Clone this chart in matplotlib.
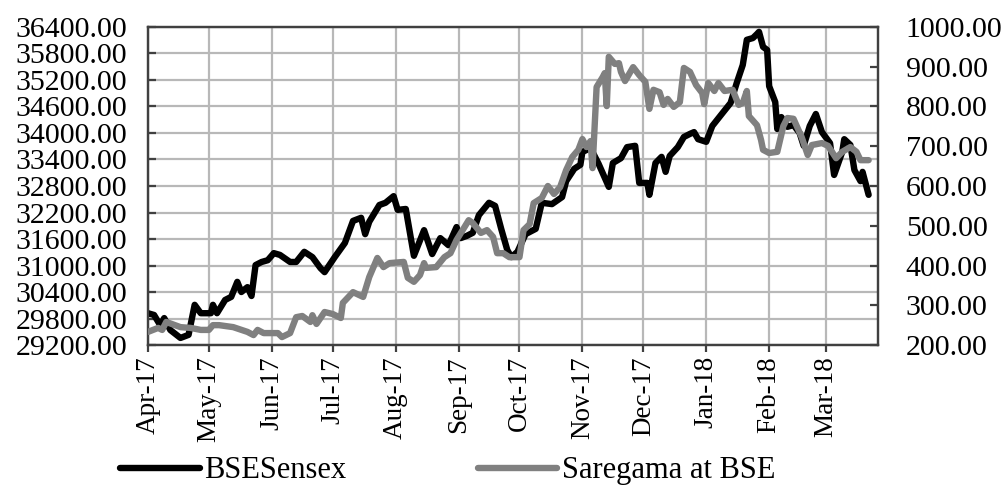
import matplotlib

matplotlib.use("Agg")
import matplotlib.dates as mdates  # noqa: E402
import matplotlib.pyplot as plt  # noqa: E402
import numpy as np  # noqa: E402
from matplotlib.ticker import FixedLocator, FormatStrFormatter  # noqa: E402

# days counted from 1 Apr 2017
START = np.datetime64("2017-04-01")

sensex_days = [0, 3, 6, 8, 11, 16, 20, 23, 26, 31, 32, 34, 38, 41, 44, 46, 49, 51, 53, 56,
               59, 62, 65, 70, 73, 77, 81, 85, 87, 92, 97, 101, 105, 107, 109, 114, 117, 121, 123, 127,
               131, 136, 140, 144, 148, 152, 154, 157, 160, 163, 168, 171, 174, 177, 179, 182, 186, 191, 194, 199,
               204, 206, 210, 213, 214, 218, 222, 227, 229, 233, 236, 240, 242, 246, 247, 250, 253, 255, 257, 261,
               264, 267, 269, 271, 275, 278, 283, 287, 290, 293, 295, 298, 300, 301, 303, 305, 306, 309, 310, 312,
               315, 318, 321, 323, 326, 329, 332, 336, 338, 342, 343, 346, 348, 351, 352, 355]
sensex_vals = [29920, 29880, 29650, 29810, 29540, 29360, 29430, 30110, 29920, 29920,
               30110, 29920, 30220, 30290, 30630, 30400, 30510, 30310, 31010, 31080,
               31120, 31280, 31240, 31080, 31080, 31310, 31190, 30940, 30850, 31190,
               31510, 32010, 32080, 31710, 31990, 32370, 32420, 32570, 32260, 32280,
               31220, 31800, 31260, 31620, 31460, 31870, 31620, 31670, 31740, 32140,
               32420, 32350, 31830, 31350, 31190, 31310, 31710, 31830, 32420, 32390,
               32550, 32910, 33190, 33280, 33570, 33660, 33300, 32780, 33320, 33430,
               33680, 33710, 32870, 32870, 32600, 33320, 33460, 33120, 33480, 33680,
               33910, 33980, 34020, 33860, 33800, 34160, 34450, 34680, 35130, 35540,
               36110, 36150, 36240, 36290, 35950, 35880, 35060, 34700, 34090, 34360,
               34140, 34180, 34000, 33710, 34160, 34430, 34020, 33770, 33050, 33570,
               33860, 33730, 33160, 32910, 33120, 32600]

saregama_days = [0, 5, 7, 9, 16, 21, 26, 30, 32, 35, 42, 49, 52, 54, 57, 64, 66, 70, 73, 76,
                 80, 81, 83, 87, 91, 95, 96, 101, 106, 109, 113, 116, 119, 126, 128, 131, 134, 136, 137, 142,
                 146, 149, 152, 155, 158, 160, 164, 167, 170, 172, 175, 178, 183, 185, 188, 190, 194, 197, 200, 203,
                 206, 209, 212, 214, 216, 218, 219, 221, 224, 225, 226, 227, 230, 232, 233, 235, 239, 242, 245, 247,
                 249, 252, 254, 256, 259, 262, 264, 267, 270, 273, 274, 276, 279, 281, 284, 288, 291, 293, 295, 296,
                 300, 302, 303, 306, 310, 313, 315, 318, 322, 325, 327, 332, 335, 339, 342, 346, 349, 351, 355]
saregama_vals = [233, 243, 238, 258, 245, 243, 238, 238, 250, 250,
                 245, 233, 225, 238, 230, 230, 220, 230, 270, 273,
                 258, 275, 253, 283, 278, 268, 306, 333, 321, 371,
                 419, 396, 406, 409, 369, 359, 376, 406, 394, 396,
                 421, 431, 464, 489, 514, 507, 482, 489, 472, 431,
                 431, 421, 421, 489, 504, 557, 570, 600, 580, 597,
                 640, 673, 691, 718, 698, 713, 645, 849, 874, 884,
                 801, 925, 907, 909, 887, 864, 899, 879, 862, 794,
                 842, 836, 804, 819, 799, 811, 897, 887, 854, 834,
                 806, 859, 839, 859, 839, 842, 804, 809, 839, 776,
                 753, 716, 691, 683, 686, 751, 771, 769, 723, 678,
                 703, 708, 701, 670, 686, 698, 686, 665, 665]

left_ticks = list(range(29200, 36401, 600))
right_ticks = list(range(200, 1001, 100))

plt.rcParams["font.family"] = ["Liberation Serif", "DejaVu Serif"]
FS_Y = 21.5
FS_X = 19.5
FS_LEG = 22
SPINE = "#404040"
GRID = "#b8b8b8"

sensex_dates = START + np.array(sensex_days, dtype="timedelta64[D]")
saregama_dates = START + np.array(saregama_days, dtype="timedelta64[D]")

fig = plt.figure(figsize=(10.08, 4.88), dpi=100)
ax = fig.add_axes([0.1468, 0.293, 0.7242, 0.6517])
ax2 = ax.twinx()

ax.plot(sensex_dates, sensex_vals, color="black", lw=4.6, solid_joinstyle="round",
        solid_capstyle="round", label="BSESensex", zorder=3)
ax2.plot(saregama_dates, saregama_vals, color="#808080", lw=4.6, solid_joinstyle="round",
         solid_capstyle="round", label="Saregama at BSE", zorder=3)

x0 = mdates.date2num(START)
ax.set_xlim(x0, x0 + 359.6)
ax.set_ylim(29200, 36400)
ax2.set_ylim(200, 1000)
ax.yaxis.set_major_locator(FixedLocator(left_ticks))
ax2.yaxis.set_major_locator(FixedLocator(right_ticks))
ax.yaxis.set_major_formatter(FormatStrFormatter("%.2f"))
ax2.yaxis.set_major_formatter(FormatStrFormatter("%.2f"))
ax.xaxis.set_major_locator(mdates.MonthLocator())
ax.xaxis.set_major_formatter(mdates.DateFormatter("%b-%y"))

ax.grid(True, color=GRID, lw=1.6, zorder=0)
ax.set_axisbelow(True)
for a in (ax, ax2):
    for s in a.spines.values():
        s.set_color(SPINE)
        s.set_linewidth(1.6)
ax.tick_params(axis="y", direction="in", length=6, width=1.6, color=SPINE,
               labelsize=FS_Y, pad=15)
ax2.tick_params(axis="y", direction="in", length=6, width=1.6, color=SPINE,
                labelsize=FS_Y, pad=20)
ax.tick_params(axis="x", direction="out", length=5, width=1.6, color=SPINE,
               labelsize=FS_X, pad=3, labelrotation=90)

h1, l1 = ax.get_legend_handles_labels()
h2, l2 = ax2.get_legend_handles_labels()
fig.legend(h1 + h2, l1 + l2, loc="center", bbox_to_anchor=(0.444, 0.035), ncol=2,
           frameon=False, fontsize=FS_LEG, handlelength=2.6, handletextpad=0.15,
           columnspacing=4.3, borderpad=0, borderaxespad=0)

fig.savefig("out.png", dpi=100)
